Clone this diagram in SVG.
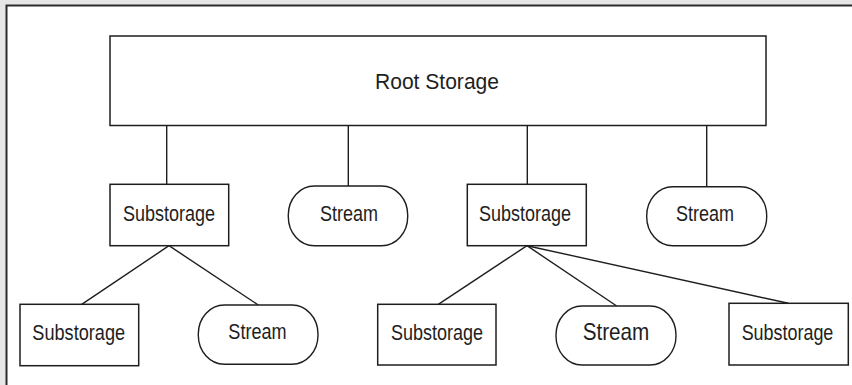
<svg xmlns="http://www.w3.org/2000/svg" width="852" height="385" viewBox="0 0 852 385">
<style>
.box{fill:#fff;stroke:#1e1e1e;stroke-width:1.5}
.stream{fill:#fff;stroke:#1e1e1e;stroke-width:1.4}
.conn line{stroke:#1e1e1e;stroke-width:1.4}
text{font-family:"Liberation Sans",Arial,sans-serif;font-size:21.5px;fill:#1e1e1e;text-anchor:middle}
</style>
<rect x="0" y="0" width="852" height="385" fill="#e6e6e6"/>
<rect x="6.5" y="5.5" width="900" height="420" fill="#fff" stroke="#2a2a2a" stroke-width="2"/>
<g id="connectors" class="conn">
<line x1="166.7" y1="125.5" x2="166.7" y2="184.3"/>
<line x1="348.3" y1="125.5" x2="348.3" y2="186"/>
<line x1="527.3" y1="125.5" x2="527.3" y2="184.3"/>
<line x1="706.7" y1="125.5" x2="706.7" y2="186.7"/>
<line x1="169" y1="245.7" x2="81.7" y2="304.3"/>
<line x1="169" y1="245.7" x2="258.3" y2="305"/>
<line x1="527" y1="245.7" x2="438.3" y2="304.3"/>
<line x1="527" y1="245.7" x2="616.7" y2="306"/>
<line x1="527" y1="245.7" x2="788.3" y2="303.3"/>
</g>
<g id="root">
<rect class="box" x="110" y="36" width="656" height="89.5"/>
<text x="437" y="89.3" textLength="124" lengthAdjust="spacingAndGlyphs">Root Storage</text>
</g>
<g id="sub1">
<rect class="box" x="110" y="184.3" width="118.7" height="61.4"/>
<text x="169" y="220.7" textLength="92" lengthAdjust="spacingAndGlyphs">Substorage</text>
</g>
<g id="stream1">
<rect class="stream" x="288.3" y="186" width="119.4" height="59.7" rx="26" ry="29"/>
<text x="349" y="220.7" textLength="58" lengthAdjust="spacingAndGlyphs">Stream</text>
</g>
<g id="sub2">
<rect class="box" x="467.3" y="184.3" width="119" height="61.4"/>
<text x="525" y="220.7" textLength="92" lengthAdjust="spacingAndGlyphs">Substorage</text>
</g>
<g id="stream2">
<rect class="stream" x="646.7" y="186.7" width="120" height="59" rx="26" ry="29"/>
<text x="705" y="220.7" textLength="58" lengthAdjust="spacingAndGlyphs">Stream</text>
</g>
<g id="sub1a">
<rect class="box" x="20" y="304.3" width="118.7" height="61.4"/>
<text x="78.7" y="339.5" textLength="92.7" lengthAdjust="spacingAndGlyphs">Substorage</text>
</g>
<g id="stream1a">
<rect class="stream" x="198.3" y="305" width="119.7" height="59.3" rx="26" ry="29"/>
<text x="257.5" y="338.5" textLength="58.3" lengthAdjust="spacingAndGlyphs">Stream</text>
</g>
<g id="sub2a">
<rect class="box" x="377.7" y="304.3" width="118.3" height="60.7"/>
<text x="437" y="339.5" textLength="92" lengthAdjust="spacingAndGlyphs">Substorage</text>
</g>
<g id="stream2a">
<rect class="stream" x="556" y="306" width="120" height="59" rx="26" ry="29"/>
<text x="616" y="340" style="font-size:24px" textLength="66.7" lengthAdjust="spacingAndGlyphs">Stream</text>
</g>
<g id="sub2b">
<rect class="box" x="729" y="303.3" width="119.3" height="61.7"/>
<text x="787.5" y="339.5" textLength="91.7" lengthAdjust="spacingAndGlyphs">Substorage</text>
</g>
</svg>
